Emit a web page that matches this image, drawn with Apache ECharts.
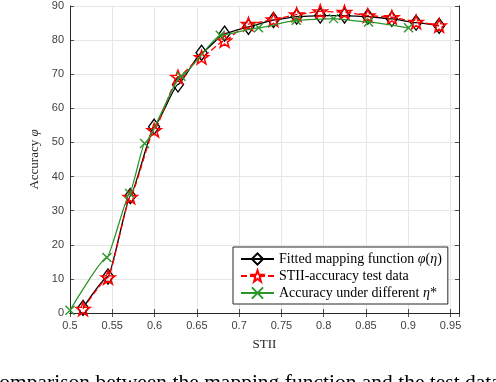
<!DOCTYPE html>
<html>
<head>
<meta charset="utf-8">
<script src="https://cdn.jsdelivr.net/npm/echarts@6/dist/echarts.min.js"></script>
<style>
  html, body { margin: 0; padding: 0; background: #fff; }
  #chart { width: 496px; height: 382px; }
</style>
</head>
<body>
<div id="chart"></div>
<script>
// STII values of the test points (shared by fitted curve and test data)
const testX = [0.5154, 0.5450, 0.5713, 0.5995, 0.6277, 0.6556, 0.6828, 0.7110,
               0.7406, 0.7680, 0.7959, 0.8246, 0.8522, 0.8806, 0.9093, 0.9365];
// fitted mapping function phi(eta)
const fittedY = [1.5, 10.7, 34.3, 54.6, 67.0, 76.3, 81.9, 83.9,
                 85.9, 86.9, 87.2, 87.2, 86.9, 86.2, 85.1, 84.2];
// STII-accuracy test data
const testY = [1.2, 10.4, 34.0, 53.6, 69.2, 75.0, 79.9, 84.7,
               86.0, 87.5, 88.4, 88.2, 87.2, 86.7, 85.3, 84.3];
// accuracy under different eta*
const etaX = [0.5, 0.5437, 0.5705, 0.5882, 0.6312, 0.6777, 0.7229, 0.7675, 0.8116, 0.853, 0.9003];
const etaY = [0.8, 16.3, 35.0, 49.7, 69.4, 81.4, 83.6, 85.8, 86.3, 85.3, 83.6];

const seriesNames = [
    'Fitted mapping function {i|φ}({i|η})',
    'STII-accuracy test data',
    'Accuracy under different {i|η}*'
];

const serif = 'Liberation Serif';
const sans = 'Liberation Sans';
const axisColor = '#262626';
const labelColor = '#404040';
const gridColor = '#e6e6e6';
const green = '#2a962a';

const starPath = 'path://M0,-10 L2.35,-3.24 L9.51,-3.09 L3.8,1.24 L5.88,8.09 L0,4 L-5.88,8.09 L-3.8,1.24 L-9.51,-3.09 L-2.35,-3.24 Z';
const crossPath = 'path://M0,0 L10,10 M10,0 L0,10';

function pairs(xs, ys) {
    return xs.map((x, i) => [x, ys[i]]);
}

const chart = echarts.init(document.getElementById('chart'));

// 坐标轴公共样式
const tickStyle = { show: true, inside: true, length: 4, lineStyle: { color: axisColor, width: 0.8 } };
const lineStyleAxis = { show: true, lineStyle: { color: axisColor, width: 1 } };

chart.setOption({
    animation: false,
    backgroundColor: '#fff',
    grid: { left: 70, right: 37, top: 6, bottom: 69, containLabel: false },
    xAxis: [{
        type: 'value', min: 0.5, max: 0.96, interval: 0.05,
        name: 'STII', nameLocation: 'middle', nameGap: 25,
        nameTextStyle: { fontFamily: serif, fontSize: 13, color: axisColor },
        axisLine: lineStyleAxis, axisTick: tickStyle,
        axisLabel: {
            color: labelColor, fontFamily: sans, fontSize: 11, margin: 7,
            formatter: v => (Math.abs(v - 0.96) < 1e-6 ? '' : String(+v.toFixed(2)))
        },
        splitLine: { show: true, lineStyle: { color: gridColor, width: 1 } }
    }, {
        type: 'value', position: 'top', min: 0.5, max: 0.96, interval: 0.05,
        axisLine: lineStyleAxis, axisTick: tickStyle,
        axisLabel: { show: false }, splitLine: { show: false }
    }],
    yAxis: [{
        type: 'value', min: 0, max: 90, interval: 10,
        name: 'Accuracy {i|φ}', nameLocation: 'middle', nameGap: 15,
        nameTextStyle: {
            fontFamily: serif, fontSize: 13, color: axisColor,
            rich: { i: { fontFamily: serif, fontStyle: 'italic', fontSize: 13, color: axisColor } }
        },
        axisLine: lineStyleAxis, axisTick: tickStyle,
        axisLabel: { color: labelColor, fontFamily: sans, fontSize: 11, margin: 6 },
        splitLine: { show: true, lineStyle: { color: gridColor, width: 1 } }
    }, {
        type: 'value', position: 'right', min: 0, max: 90, interval: 10,
        axisLine: lineStyleAxis, axisTick: tickStyle,
        axisLabel: { show: false }, splitLine: { show: false }
    }],
    legend: {
        orient: 'vertical',
        left: 233, top: 247,
        padding: [5, 6, 4, 7],
        itemWidth: 33, itemHeight: 14, itemGap: 3,
        backgroundColor: '#fff',
        borderColor: axisColor, borderWidth: 1, borderRadius: 0,
        textStyle: {
            fontFamily: serif, fontSize: 14, color: '#000',
            rich: { i: { fontFamily: serif, fontStyle: 'italic', fontSize: 14, color: '#000' } }
        },
        data: seriesNames
    },
    graphic: [{
        type: 'text', left: -15, top: 372,
        style: { text: 'Comparison between the mapping function and the test data', font: '21.5px "Liberation Serif"', fill: '#000' }
    }],
    series: [{
        name: seriesNames[0], type: 'line',
        data: pairs(testX, fittedY),
        smooth: 0.15, smoothMonotone: 'x',
        symbol: 'diamond', symbolSize: [11, 15],
        lineStyle: { color: '#000', width: 1.3 },
        itemStyle: { color: 'rgba(0,0,0,0)', borderColor: '#000', borderWidth: 1.4 },
        z: 2
    }, {
        name: seriesNames[1], type: 'line',
        data: pairs(testX, testY),
        smooth: 0.15, smoothMonotone: 'x',
        symbol: starPath, symbolSize: 14, symbolKeepAspect: true,
        lineStyle: { color: '#ff0000', width: 1.3, type: [6, 3] },
        itemStyle: { color: 'rgba(0,0,0,0)', borderColor: '#ff0000', borderWidth: 1.5 },
        z: 3
    }, {
        name: seriesNames[2], type: 'line',
        data: pairs(etaX, etaY),
        smooth: 0.15, smoothMonotone: 'x',
        symbol: crossPath, symbolSize: 9,
        lineStyle: { color: green, width: 1.3 },
        itemStyle: { color: 'rgba(0,0,0,0)', borderColor: green, borderWidth: 1.4 },
        z: 4
    }]
});
</script>
</body>
</html>
